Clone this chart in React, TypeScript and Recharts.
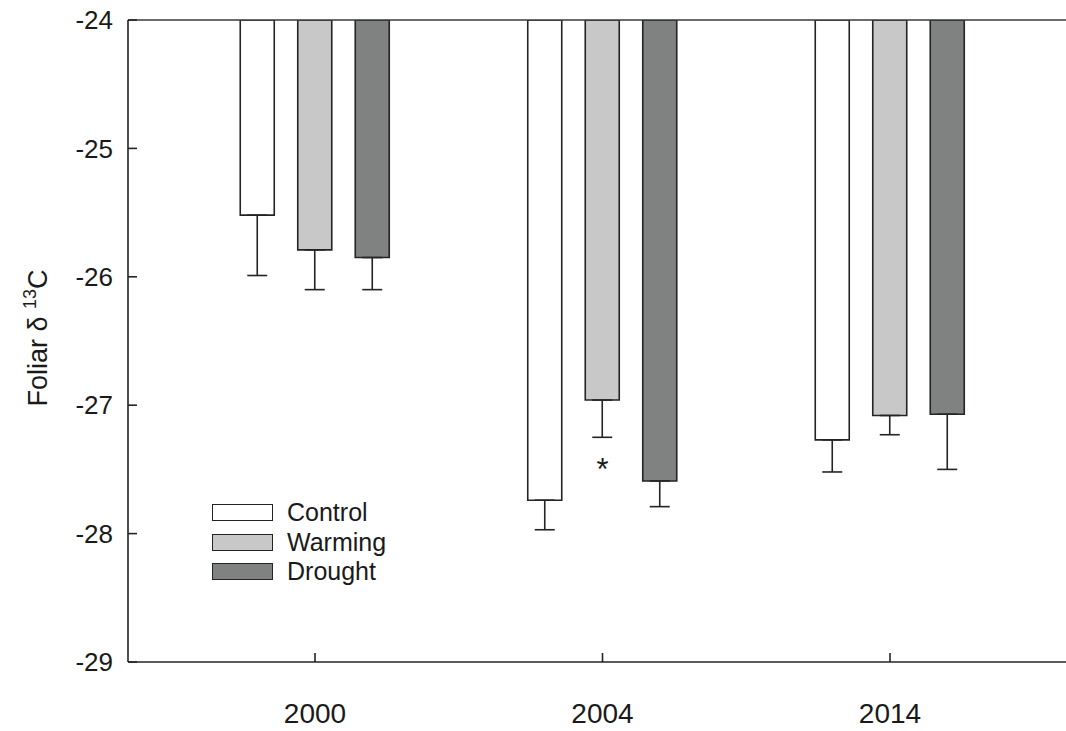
import React from 'react';
import {
  BarChart,
  Bar,
  XAxis,
  YAxis,
  ErrorBar,
  ReferenceLine,
  ReferenceDot,
  Legend,
  Label,
} from 'recharts';

const years = ['2000', '2004', '2014'];
const seriesNames = ['Control', 'Warming', 'Drought'];
const controlMean = [-25.52, -27.74, -27.27];
const controlSE = [0.47, 0.23, 0.25];
const warmingMean = [-25.79, -26.96, -27.08];
const warmingSE = [0.31, 0.29, 0.15];
const droughtMean = [-25.85, -27.59, -27.07];
const droughtSE = [0.25, 0.2, 0.43];
const significance = ['', '*', ''];
const yTicks = [-29, -28, -27, -26, -25, -24];

const FONT = '"Liberation Sans", Arial, Helvetica, sans-serif';
const INK = '#1a1a1a';
const EDGE = '#242424';

const data = years.map((year, i) => ({
  year,
  control: controlMean[i],
  controlErr: [controlSE[i], 0],
  warming: warmingMean[i],
  warmingErr: [warmingSE[i], 0],
  drought: droughtMean[i],
  droughtErr: [droughtSE[i], 0],
}));

const sigMarks = years
  .map((year, i) => ({ year, mark: significance[i], y: warmingMean[i] - warmingSE[i] - 0.19 }))
  .filter((d) => d.mark);

const renderYLabel = (props: any) => {
  const vb = props.viewBox || { x: 0, y: 20, width: 128, height: 642 };
  const cx = vb.x + 47;
  const cy = vb.y + vb.height / 2 - 3;
  return (
    <text
      x={cx}
      y={cy}
      transform={`rotate(-90, ${cx}, ${cy})`}
      textAnchor="middle"
      fontFamily={FONT}
      fontSize={27}
      fill={INK}
    >
      <tspan>Foliar δ </tspan>
      <tspan fontSize={18} dy={-11}>13</tspan>
      <tspan dy={11}>C</tspan>
    </text>
  );
};

const renderLegend = (props: any) => {
  const payload = [...(props.payload || [])].sort(
    (a: any, b: any) => seriesNames.indexOf(a.value) - seriesNames.indexOf(b.value),
  );
  return (
    <div style={{ fontFamily: FONT, fontSize: 25, color: INK }}>
      {payload.map((entry: any) => (
        <div
          key={entry.value}
          style={{ display: 'flex', alignItems: 'center', height: 29.5 }}
        >
          <div
            style={{
              boxSizing: 'border-box',
              width: 61,
              height: 17,
              border: `1.6px solid ${EDGE}`,
              background: entry.color,
            }}
          />
          <span style={{ marginLeft: 14, lineHeight: '29.5px' }}>{entry.value}</span>
        </div>
      ))}
    </div>
  );
};

const renderStar = (mark: string) => (props: any) => (
  <text
    x={props.cx}
    y={props.cy}
    dy="0.6em"
    textAnchor="middle"
    fontFamily={FONT}
    fontSize={31}
    fill={INK}
  >
    {mark}
  </text>
);

export default function App() {
  return (
    <div
      style={{
        position: 'absolute',
        left: 0,
        top: 0,
        width: 1066,
        height: 731,
        background: '#ffffff',
        fontFamily: FONT,
      }}
    >
      <BarChart
        width={1066}
        height={731}
        data={data}
        margin={{ top: 20, right: 0, bottom: 0, left: 0 }}
        barSize={34}
        barGap={23.5}
      >
        <XAxis
          dataKey="year"
          height={69}
          interval={0}
          padding={{ left: 43.25, right: 32.25 }}
          tickSize={-9}
          tickMargin={50}
          axisLine={{ stroke: EDGE, strokeWidth: 1.6 }}
          tickLine={{ stroke: EDGE, strokeWidth: 1.6 }}
          tick={{ fontSize: 28, fill: INK, fontFamily: FONT }}
        />
        <YAxis
          type="number"
          width={128}
          domain={[-29, -24]}
          ticks={yTicks}
          allowDataOverflow
          tickSize={-9}
          tickMargin={24}
          axisLine={{ stroke: EDGE, strokeWidth: 1.6 }}
          tickLine={{ stroke: EDGE, strokeWidth: 1.6 }}
          tick={{ fontSize: 26, fill: INK, fontFamily: FONT }}
        >
          <Label content={renderYLabel} />
        </YAxis>
        <ReferenceLine y={-24} stroke="#3a3a3a" strokeWidth={1.6} />
        <Legend
          layout="vertical"
          align="center"
          verticalAlign="middle"
          content={renderLegend}
          wrapperStyle={{ left: 212, top: 498, width: 220, height: 90 }}
        />
        <Bar
          dataKey="control"
          name={seriesNames[0]}
          fill="#ffffff"
          stroke={EDGE}
          strokeWidth={1.6}
          isAnimationActive={false}
        >
          <ErrorBar dataKey="controlErr" width={10} stroke={EDGE} strokeWidth={1.6} direction="y" />
        </Bar>
        <Bar
          dataKey="warming"
          name={seriesNames[1]}
          fill="#c8c8c8"
          stroke={EDGE}
          strokeWidth={1.6}
          isAnimationActive={false}
        >
          <ErrorBar dataKey="warmingErr" width={10} stroke={EDGE} strokeWidth={1.6} direction="y" />
        </Bar>
        <Bar
          dataKey="drought"
          name={seriesNames[2]}
          fill="#7f8281"
          stroke={EDGE}
          strokeWidth={1.6}
          isAnimationActive={false}
        >
          <ErrorBar dataKey="droughtErr" width={10} stroke={EDGE} strokeWidth={1.6} direction="y" />
        </Bar>
        {sigMarks.map((s) => (
          <ReferenceDot
            key={s.year}
            x={s.year}
            y={s.y}
            r={0}
            shape={renderStar(s.mark)}
          />
        ))}
      </BarChart>
    </div>
  );
}
